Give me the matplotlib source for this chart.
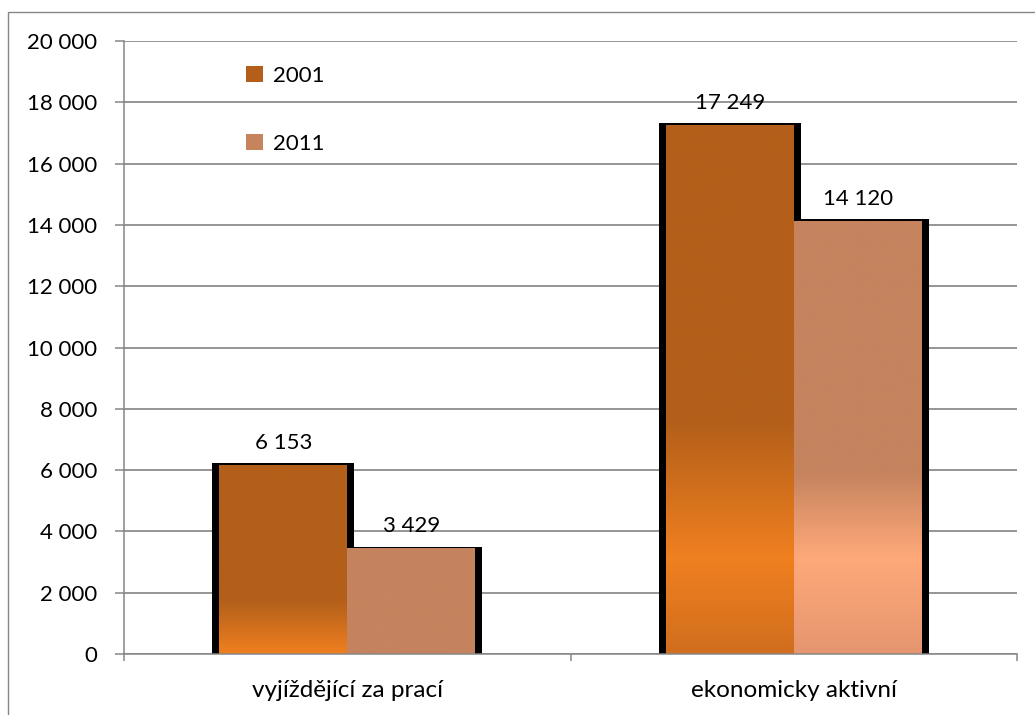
import numpy as np
import matplotlib
matplotlib.use("Agg")
import matplotlib.pyplot as plt
from matplotlib.patches import Rectangle, Patch
from matplotlib.colors import to_rgb

plt.rcParams['font.family'] = ['Lato', 'DejaVu Sans']

categories = ["vyjíždějící za prací", "ekonomicky aktivní"]
series_names = ["2001", "2011"]
values_2001 = [6153, 17249]
values_2011 = [3429, 14120]
value_labels_2001 = ["6 153", "17 249"]
value_labels_2011 = ["3 429", "14 120"]
yticks = [0, 2000, 4000, 6000, 8000, 10000, 12000, 14000, 16000, 18000, 20000]
ytick_labels = ["0", "2 000", "4 000", "6 000", "8 000", "10 000", "12 000",
                "14 000", "16 000", "18 000", "20 000"]

# styles
dark = ["#B35F1A", "#C5835E"]
bright = ["#F08020", "#FFA97A"]
shade = ["#D06E1E", "#E5966F"]
# gradient stops per bar (fraction from top): dark end, peak
grad_stops = [
    [(0.72, 1.0), None],
    [(0.56, 0.82), (0.58, 0.78)],
]

W, H, DPI = 1035, 715, 100
fig = plt.figure(figsize=(W / DPI, H / DPI), dpi=DPI)
ax = fig.add_axes([124 / W, 1 - 654 / H, (1017 - 124) / W, (654 - 41) / H])

# figure border
fig.patches.append(Rectangle((8 / W, -0.5), 1.5, 1.5 - 12 / H, transform=fig.transFigure,
                             fill=False, edgecolor="#868686", linewidth=1.0))

x = np.arange(len(categories))
bw = 128 / 447
dx = 7 / 447
dy = 2 / 30.65 * 1000

series = [values_2001, values_2011]
labels = [value_labels_2001, value_labels_2011]
offsets = [-bw / 2, bw / 2]

# black shadows
for s in range(2):
    ax.bar(x + offsets[s], np.array(series[s]) + dy, width=bw + 2 * dx, bottom=0,
           color="black", zorder=2, linewidth=0)


def gradient(ci, s, v):
    n = 400
    t = np.linspace(0, 1, n)  # from top
    c0 = np.array(to_rgb(dark[s]))
    c1 = np.array(to_rgb(bright[s]))
    c2 = np.array(to_rgb(shade[s]))
    st = grad_stops[ci][s]
    img = np.zeros((n, 1, 3))
    if st is None:
        img[:, 0, :] = c0
        return img
    a, b = st
    if b >= 0.999:
        pos = [0, a, 1.0]
        cols = [c0, c0, c1]
    else:
        pos = [0, a, b, 1.0]
        cols = [c0, c0, c1, c2]
    for k in range(3):
        img[:, 0, k] = np.interp(t, pos, [c[k] for c in cols])
    return img


FS = 16
for s in range(2):
    for ci in range(len(categories)):
        v = series[s][ci]
        xc = x[ci] + offsets[s]
        ax.imshow(gradient(ci, s, v), extent=[xc - bw / 2, xc + bw / 2, 0, v],
                  aspect="auto", zorder=3 + s, interpolation="bilinear")
        ax.annotate(labels[s][ci], (xc, v), xytext=(0, 9), textcoords="offset points",
                    ha="center", va="bottom", fontsize=FS, color="black", zorder=6)

ax.set_xlim(-0.5, len(categories) - 0.5)
ax.set_ylim(0, 20000)

ax.set_yticks(yticks)
ax.set_yticklabels(ytick_labels)
ax.set_xticks(x)
ax.set_xticklabels(categories)
ax.set_xticks(np.arange(len(categories) + 1) - 0.5, minor=True)

ax.tick_params(axis="y", length=6.5, width=1.1, color="#868686", pad=13, labelsize=FS, direction="out")
ax.tick_params(axis="x", which="major", length=0, pad=19, labelsize=17.5)
ax.tick_params(axis="x", which="minor", length=5, width=1.1, color="#868686", direction="out")

ax.grid(axis="y", color="#8C8C8C", linewidth=1.3, zorder=1)
ax.set_axisbelow(True)
for sp in ["top", "right"]:
    ax.spines[sp].set_visible(False)
for sp in ["left", "bottom"]:
    ax.spines[sp].set_color("#868686")
    ax.spines[sp].set_linewidth(1.1)
    ax.spines[sp].set_zorder(5)

handles = [Patch(facecolor=dark[0], edgecolor="none"), Patch(facecolor=dark[1], edgecolor="none")]
leg = ax.legend(handles, series_names, loc="upper left", bbox_to_anchor=(246 / W, 1 - 66 / H),
                bbox_transform=fig.transFigure, frameon=False, fontsize=FS,
                handlelength=0.75, handleheight=0.75, handletextpad=0.45, labelspacing=2.15,
                borderpad=0, borderaxespad=0)

fig.savefig("out.png", dpi=DPI)
